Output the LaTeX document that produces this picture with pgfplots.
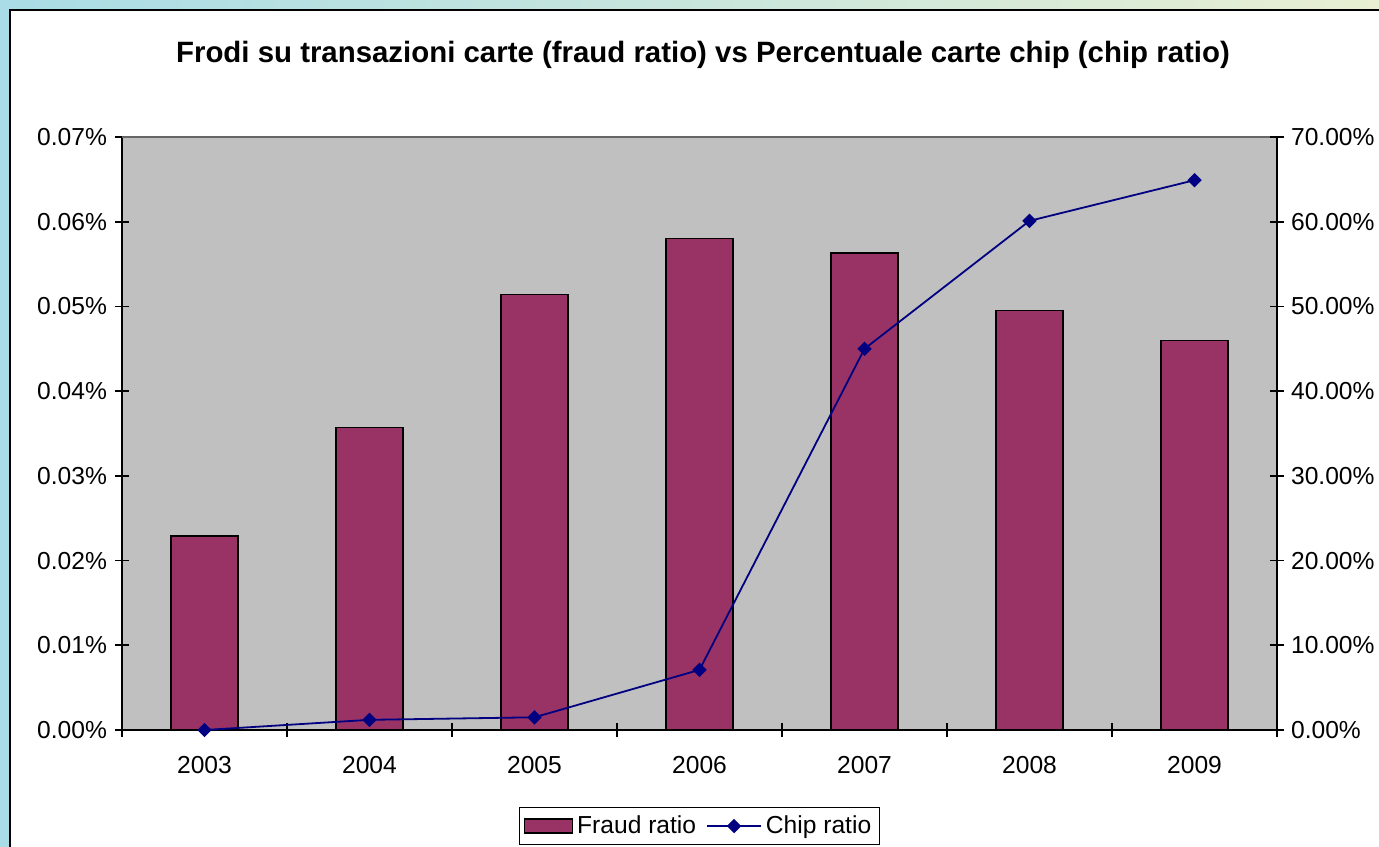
\documentclass[border=0pt]{standalone}
\usepackage{pgfplots}
\pgfplotsset{compat=1.18}
\usepackage{fontspec}
\setmainfont{Liberation Sans}
\definecolor{plum}{HTML}{993366}
\definecolor{plotgray}{HTML}{C0C0C0}
\definecolor{navyline}{HTML}{000080}
\definecolor{bgL}{HTML}{A9DCE6}
\definecolor{bgR}{HTML}{E8EFD2}
\pgfplotsset{
  lineleg/.style={legend image code/.code={\draw[##1, mark repeat=2, mark phase=2] plot coordinates {(0pt,0pt) (13.5pt,0pt) (27pt,0pt)};}},
  barleg/.style={legend image code/.code={\draw[fill=plum, draw=black, line width=0.7pt] (0pt,-3.5pt) rectangle (24pt,3.5pt);}},
}
\begin{document}
\begin{tikzpicture}
\path[use as bounding box] (0pt,0pt) rectangle (689.5pt,423pt);
\shade[left color=bgL, right color=bgR] (0pt,0pt) rectangle (689.5pt,423pt);
\fill[white] (5pt,-10pt) rectangle (700pt,418pt);
\draw[black, line width=1pt] (5pt,-10pt) -- (5pt,418pt) -- (700pt,418pt);
\node[font=\fontsize{14.7}{17}\selectfont\bfseries] at (351.5pt,395.5pt) {Frodi su transazioni carte (fraud ratio) vs Percentuale carte chip (chip ratio)};
\begin{axis}[
  at={(61pt,58pt)}, anchor=south west, scale only axis,
  width=577.5pt, height=296.5pt,
  xmin=-0.5, xmax=6.5, ymin=0, ymax=0.07,
  scaled y ticks=false,
  axis background/.style={fill=plotgray},
  axis x line*=bottom, axis y line*=left,
  axis line style={black, line width=0.8pt},
  tick style={black, line width=0.8pt},
  tick align=center, major tick length=7pt, minor tick length=7pt,
  xtick={0,1,2,3,4,5,6},
  xticklabels={2003,2004,2005,2006,2007,2008,2009},
  major x tick style={draw=none},
  minor xtick={-0.5,0.5,1.5,2.5,3.5,4.5,5.5,6.5},
  ytick={0,0.01,0.02,0.03,0.04,0.05,0.06,0.07},
  yticklabels={0.00\%,0.01\%,0.02\%,0.03\%,0.04\%,0.05\%,0.06\%,0.07\%},
  ticklabel style={font=\fontsize{12.3}{14}\selectfont},
  xticklabel style={yshift=-6pt},
  yticklabel style={xshift=-0.5pt},
  clip=false,
]
\draw[gray!80!black, line width=0.6pt] (rel axis cs:0,1) -- (rel axis cs:1,1);
\addplot[ybar, bar width=33.5pt, fill=plum, draw=black, line width=0.7pt] coordinates {
  (0,0.0229) (1,0.0357) (2,0.0514) (3,0.0580) (4,0.0563) (5,0.0495) (6,0.0460)};
\end{axis}
\begin{axis}[
  at={(61pt,58pt)}, anchor=south west, scale only axis,
  width=577.5pt, height=296.5pt,
  xmin=-0.5, xmax=6.5, ymin=0, ymax=70,
  axis x line=none, axis y line*=right,
  axis line style={black, line width=0.8pt},
  tick style={black, line width=0.8pt},
  tick align=center, major tick length=7pt,
  ytick={0,10,20,30,40,50,60,70},
  yticklabels={0.00\%,10.00\%,20.00\%,30.00\%,40.00\%,50.00\%,60.00\%,70.00\%},
  ticklabel style={font=\fontsize{12.3}{14}\selectfont},
  clip=false,
  legend style={at={(0.5,-0.162)}, anchor=center, legend columns=2, draw=black, line width=0.6pt,
    font=\fontsize{12.3}{14}\selectfont, inner sep=2pt,
    /tikz/every even column/.append style={column sep=3pt}},
]
\addlegendimage{barleg}
\addlegendentry{Fraud ratio}
\addplot[navyline, line width=0.9pt, mark=square*, mark size=2.1pt, mark options={rotate=45, fill=navyline}, lineleg]
  coordinates {(0,0) (1,1.2) (2,1.5) (3,7.1) (4,45.0) (5,60.1) (6,64.9)};
\addlegendentry{Chip ratio}
\end{axis}
\end{tikzpicture}
\end{document}
